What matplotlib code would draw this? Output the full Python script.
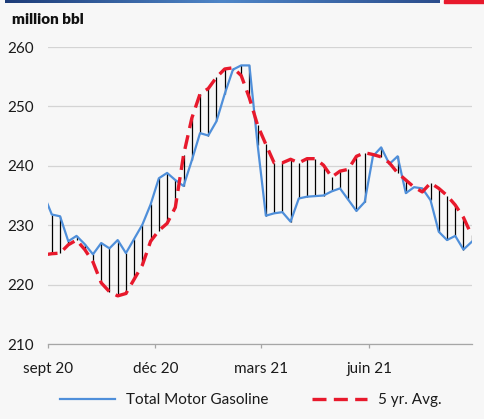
import matplotlib
matplotlib.use("Agg")
import matplotlib.pyplot as plt
from matplotlib.colors import LinearSegmentedColormap
from matplotlib.patches import Rectangle
import numpy as np
import pandas as pd

plt.rcParams['font.family'] = ['Lato', 'DejaVu Sans']

# weekly data, week ending friday
dates = pd.date_range('2020-08-28', periods=53, freq='7D')

gasoline = [235.2, 231.8, 231.5, 227.3, 228.2, 226.8, 225.1, 227.0, 226.1, 227.5,
            225.3, 227.7, 230.1, 233.5, 237.9, 238.8, 237.6, 236.6, 240.9, 245.5,
            245.1, 247.5, 252.1, 256.2, 256.9, 256.9, 243.5, 231.6, 232.0, 232.2,
            230.6, 234.5, 234.8, 234.9, 235.0, 235.7, 236.2, 234.3, 232.4, 233.9,
            241.6, 243.1, 240.3, 241.6, 235.4, 236.4, 236.2, 234.2, 228.9, 227.5,
            228.2, 225.9, 227.2]

avg5 = [225.0, 225.2, 225.3, 226.7, 227.5, 225.9, 223.8, 220.3, 218.8, 218.1,
        218.5, 220.9, 223.3, 227.3, 229.1, 230.3, 233.0, 241.8, 248.0, 252.1,
        253.0, 254.9, 256.3, 256.5, 255.2, 251.4, 246.8, 243.6, 240.5, 240.5,
        241.1, 240.5, 241.2, 241.2, 240.1, 238.1, 239.1, 239.4, 241.6, 242.2,
        241.9, 241.5, 240.5, 238.8, 237.6, 236.4, 235.6, 237.1, 236.2, 235.0,
        233.4, 231.3, 228.3]

tick_dates = pd.to_datetime(['2020-09-01', '2020-12-01', '2021-03-01', '2021-06-01'])
tick_labels = ['sept 20', 'déc 20', 'mars 21', 'juin 21']

bg = '#f7f7f7'
fig = plt.figure(figsize=(4.85, 4.19), dpi=100, facecolor=bg)
ax = fig.add_axes([48.3/485, 1-344/419, 423.4/485, 297/419], facecolor=bg)

ax.vlines(dates, avg5, gasoline, color='black', lw=0.9, zorder=2)
ax.plot(dates, gasoline, color='#4f8fda', lw=1.6, zorder=3, label='Total Motor Gasoline')
ax.plot(dates, avg5, color='#e8192c', lw=2.4, dashes=(4.2, 2.2), zorder=4, label='5 yr. Avg.')

ax.set_xlim(pd.Timestamp('2020-09-01'), pd.Timestamp('2021-08-27'))
ax.set_ylim(210, 260)
ax.set_yticks(range(210, 261, 10))
ax.set_xticks(tick_dates)
ax.set_xticklabels(tick_labels)

ax.grid(axis='y', color='#d4d4d4', lw=0.9)
ax.set_axisbelow(True)
for s in ['left', 'right', 'top']:
    ax.spines[s].set_visible(False)
ax.spines['bottom'].set_color('#a6a6a6')
ax.spines['bottom'].set_linewidth(0.9)
ax.tick_params(axis='y', length=0, pad=10.5, labelsize=11, labelcolor='#1a1a1a')
ax.tick_params(axis='x', length=3, width=0.9, color='#a6a6a6', direction='out', pad=10,
               labelsize=11, labelcolor='#1a1a1a')

fig.text(12/485, 1-19/419, 'million bbl', fontsize=11, fontweight='heavy',
         va='center', ha='left', color='#111111')

fig.legend(loc='center left', bbox_to_anchor=(60/485, 1-400/419), ncol=2, frameon=False,
           fontsize=11, handlelength=3.6, handletextpad=0.7, columnspacing=2.9,
           borderpad=0, borderaxespad=0, labelcolor='#1a1a1a')

# header bar
bar = fig.add_axes([5/485, 1-3/419, 435/485, 3/419])
cmap = LinearSegmentedColormap.from_list('hdr', ['#1d3c78', '#4f86c8', '#2b4d8c'])
bar.imshow(np.linspace(0, 1, 256)[None, :], aspect='auto', cmap=cmap)
bar.axis('off')
fig.patches.append(Rectangle((444/485, 1-3/419), 41/485, 3/419, color='#e8192c',
                             transform=fig.transFigure, figure=fig))

fig.savefig('out.png', dpi=100, facecolor=bg)
